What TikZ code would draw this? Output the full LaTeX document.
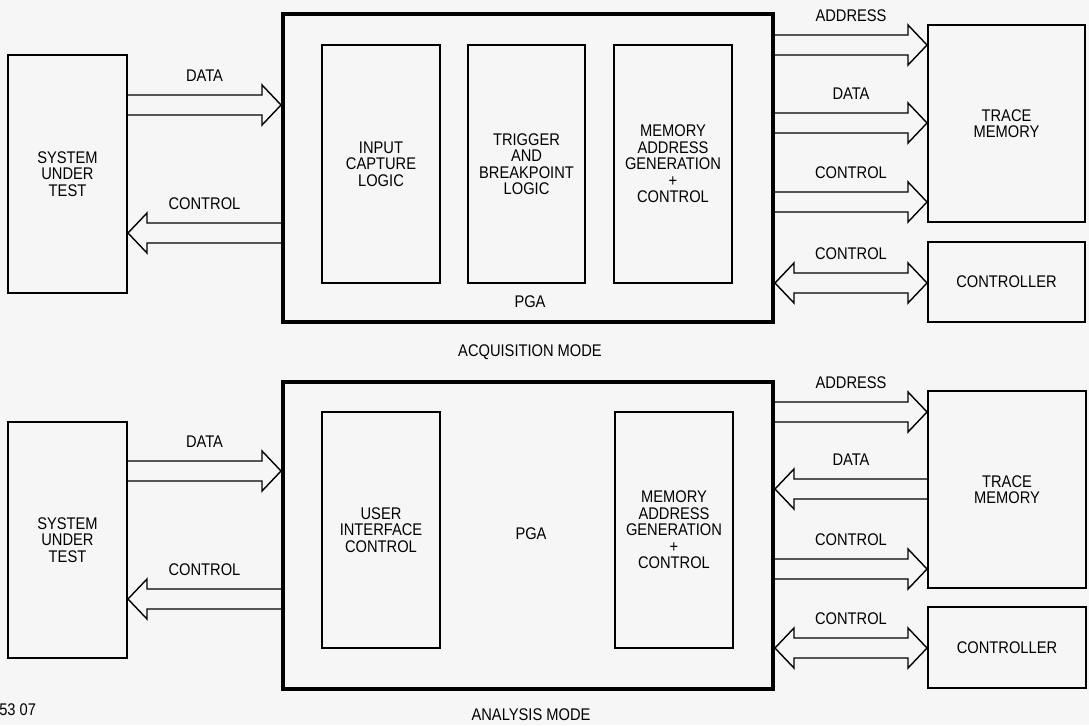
\documentclass[tikz,border=0pt]{standalone}
\usepackage{fontspec}
\setmainfont[FakeStretch=0.87]{Liberation Sans}
\usetikzlibrary{calc}

\tikzset{
  blk/.style 2 args={draw,line width=1.4pt,inner sep=0pt,align=center,
    minimum width=#1*0.025cm,minimum height=#2*0.025cm,
    font=\fontsize{12}{11.7}\selectfont},
  pgabox/.style 2 args={draw,line width=2.8pt,inner sep=0pt,
    minimum width=#1*0.025cm,minimum height=#2*0.025cm},
  bus/.style={line width=1pt,line join=miter},
  lbl/.style={inner sep=0pt,font=\fontsize{12}{12}\selectfont},
}

% bus arrow pointing right, left or both ways: from, to, y, name, text
\newcommand{\busR}[5]{%
  \coordinate (#4a) at (#1.east |- 0,#3);
  \coordinate (#4b) at (#2.west |- 0,#3);
  \draw[bus] ($(#4a)+(0,-10)$) -- ($(#4b)+(-19,-10)$) -- ++(0,-10) -- (#4b)
    -- ++(-19,20) -- ++(0,-10) -- ($(#4a)+(0,10)$);
  \node[lbl] (#4) at ($(#4a)!0.5!(#4b)+(0,-29)$) {#5};}
\newcommand{\busL}[5]{%
  \coordinate (#4a) at (#1.east |- 0,#3);
  \coordinate (#4b) at (#2.west |- 0,#3);
  \draw[bus] ($(#4b)+(0,-10)$) -- ($(#4a)+(19,-10)$) -- ++(0,-10) -- (#4a)
    -- ++(19,20) -- ++(0,-10) -- ($(#4b)+(0,10)$);
  \node[lbl] (#4) at ($(#4a)!0.5!(#4b)+(0,-29)$) {#5};}
\newcommand{\busLR}[5]{%
  \coordinate (#4a) at (#1.east |- 0,#3);
  \coordinate (#4b) at (#2.west |- 0,#3);
  \draw[bus] ($(#4a)+(19,-10)$) -- ($(#4b)+(-19,-10)$) -- ++(0,-10) -- (#4b)
    -- ++(-19,20) -- ++(0,-10) -- ($(#4a)+(19,10)$) -- ++(0,10) -- (#4a)
    -- ++(19,-20) -- cycle;
  \node[lbl] (#4) at ($(#4a)!0.5!(#4b)+(0,-29)$) {#5};}

\begin{document}
\begin{tikzpicture}[x=0.025cm,y=-0.025cm]
  \fill[gray!7] (0,0) rectangle (1089,725);
  \useasboundingbox (0,0) rectangle (1089,725);

  % acquisition mode
  \node[blk={119}{238}] (sutA) at (67.5,174) {SYSTEM\\UNDER\\TEST};
  \node[pgabox={490}{308}] (pgaA) at (528,168) {};
  \node[blk={118}{238}] (inA) at (381,164) {INPUT\\CAPTURE\\LOGIC};
  \node[blk={117}{238}] (trgA) at (526.5,164) {TRIGGER\\AND\\BREAKPOINT\\LOGIC};
  \node[blk={118}{238}] (memA) at (673,164) {MEMORY\\ADDRESS\\GENERATION\\+\\CONTROL};
  \node[lbl] (pgalA) at (530,302) {PGA};
  \node[blk={157}{197}] (trcA) at (1006.5,123.5) {TRACE\\MEMORY};
  \node[blk={157}{80}] (ctlA) at (1006.5,282) {CONTROLLER};
  \node[lbl] (modeA) at (530,352) {ACQUISITION MODE};

  \busR{sutA}{pgaA}{105}{dA}{DATA}
  \busL{sutA}{pgaA}{233}{cA}{CONTROL}
  \busR{pgaA}{trcA}{45}{adrA}{ADDRESS}
  \busR{pgaA}{trcA}{123}{datA}{DATA}
  \busR{pgaA}{trcA}{202}{conA}{CONTROL}
  \busLR{pgaA}{ctlA}{283}{ctrA}{CONTROL}

  % analysis mode
  \node[blk={119}{236}] (sutB) at (67.5,540) {SYSTEM\\UNDER\\TEST};
  \node[pgabox={490}{307}] (pgaB) at (528,535.5) {};
  \node[blk={118}{236}] (uiB) at (381,530) {USER\\INTERFACE\\CONTROL};
  \node[blk={118}{236}] (memB) at (674,530) {MEMORY\\ADDRESS\\GENERATION\\+\\CONTROL};
  \node[lbl] (pgalB) at (531,534) {PGA};
  \node[blk={158}{197}] (trcB) at (1007,489.5) {TRACE\\MEMORY};
  \node[blk={158}{81}] (ctlB) at (1007,647.5) {CONTROLLER};
  \node[lbl] (modeB) at (531,715) {ANALYSIS MODE};
  \node[lbl,anchor=west] (fig) at (-1,710) {53 07};

  \busR{sutB}{pgaB}{471}{dB}{DATA}
  \busL{sutB}{pgaB}{599}{cB}{CONTROL}
  \busR{pgaB}{trcB}{412}{adrB}{ADDRESS}
  \busL{pgaB}{trcB}{489}{datB}{DATA}
  \busR{pgaB}{trcB}{569}{conB}{CONTROL}
  \busLR{pgaB}{ctlB}{648}{ctrB}{CONTROL}
\end{tikzpicture}
\end{document}
